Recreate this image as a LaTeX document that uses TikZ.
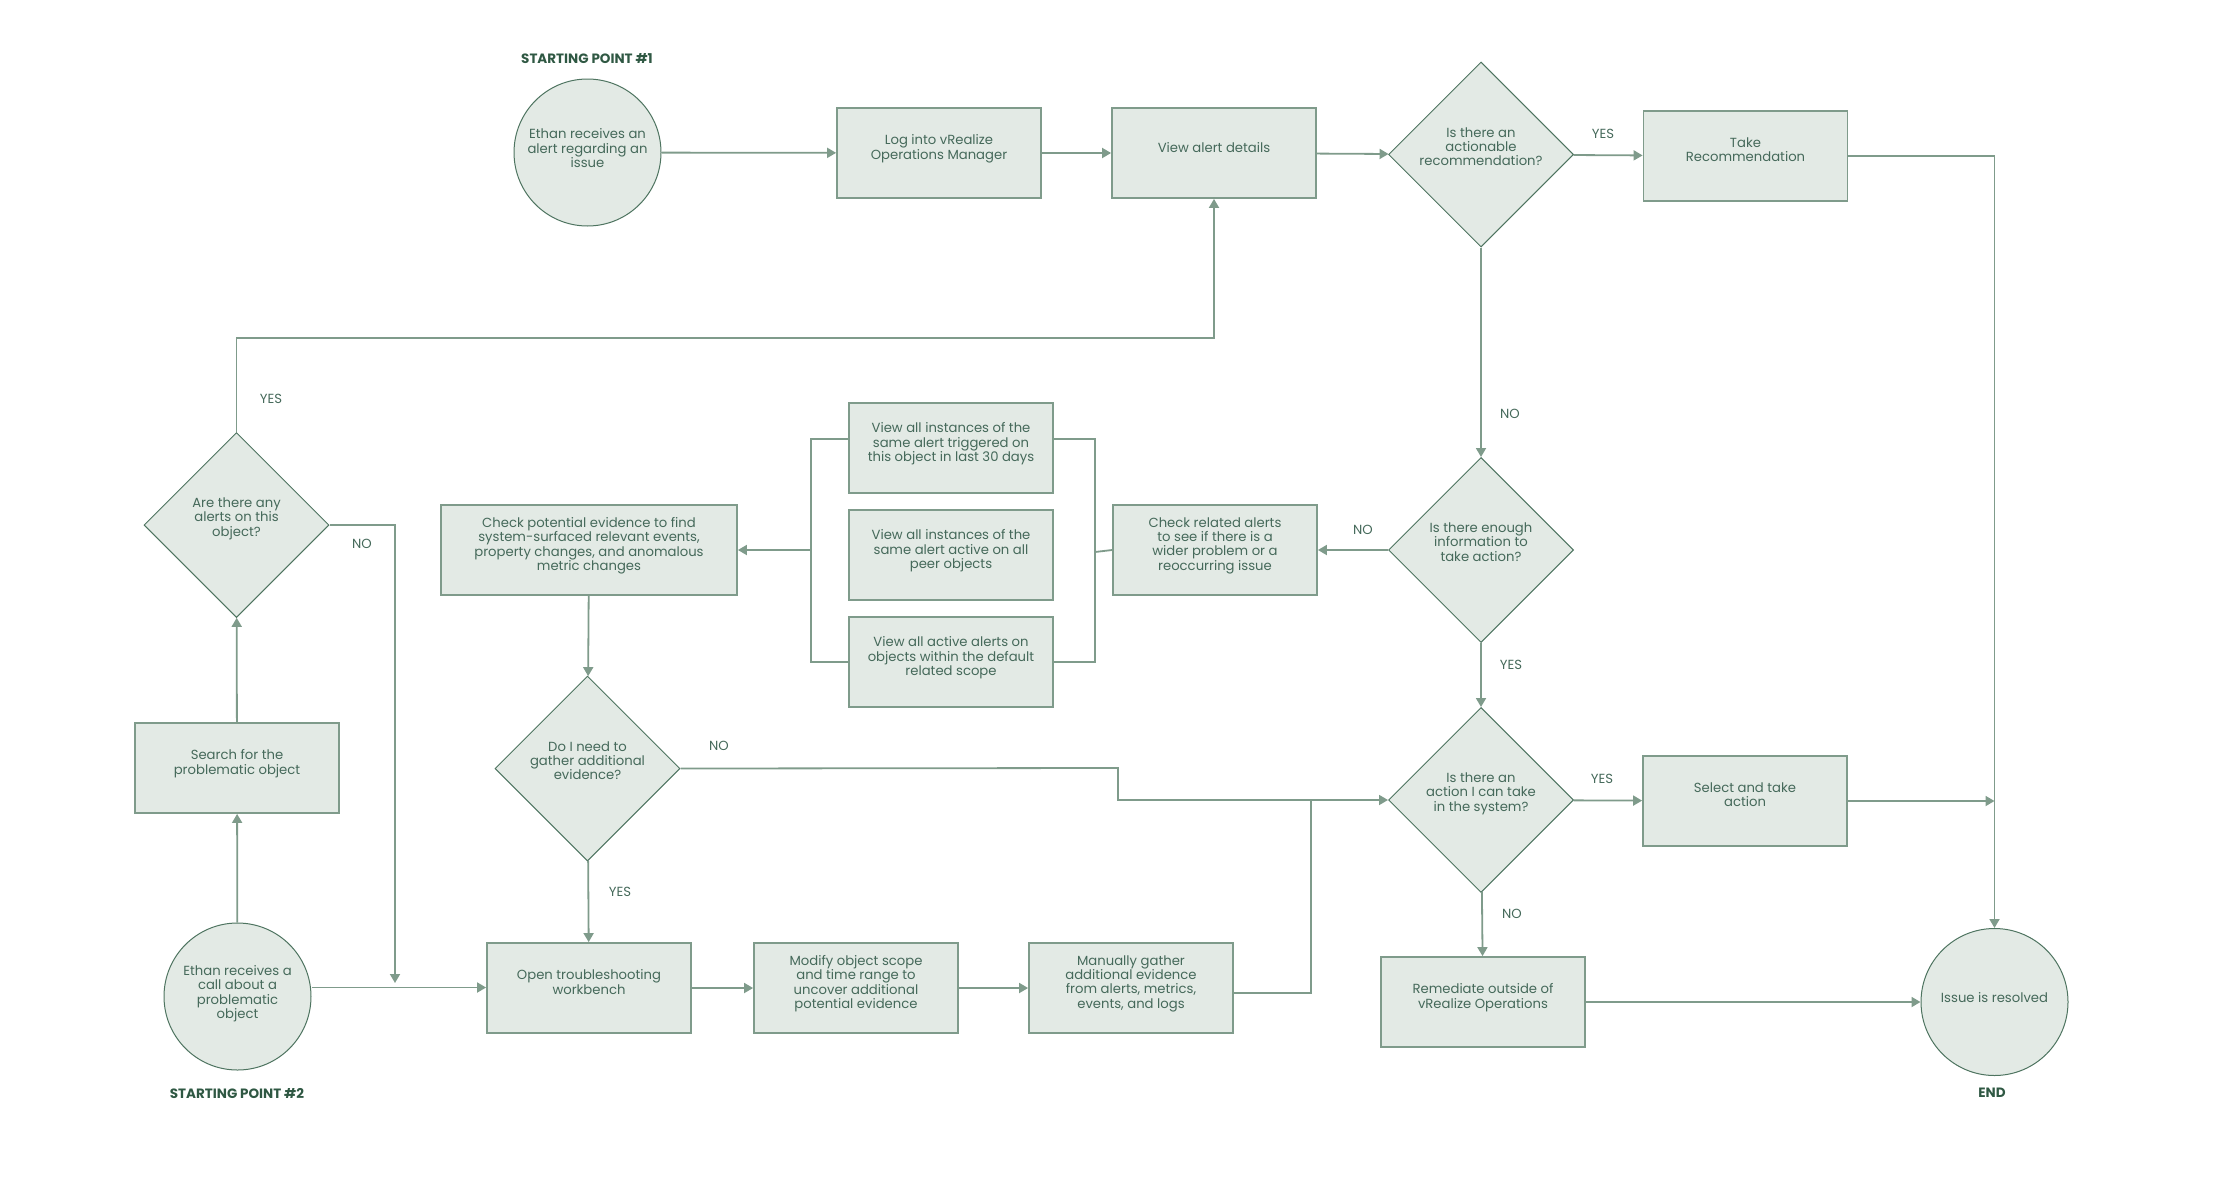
\documentclass[tikz,border=0pt]{standalone}
\usepackage{fontspec}
\setmainfont{Poppins}
\usetikzlibrary{shapes.geometric,arrows.meta}
\definecolor{fillc}{HTML}{E3EAE5}
\definecolor{boxc}{HTML}{7F9B8B}
\definecolor{edgec}{HTML}{4E7460}
\definecolor{linec}{HTML}{7F9B8B}
\definecolor{textc}{HTML}{45695A}
\definecolor{headc}{HTML}{2F5843}
\begin{document}
\begin{tikzpicture}[x=1pt,y=-1pt,
  every node/.style={font=\fontsize{13.2}{14.2}\selectfont, text=textc, align=center},
  procbox/.style={rectangle, draw=boxc, line width=1.8pt, fill=fillc, minimum width=204pt, minimum height=90pt, inner sep=2pt, text depth=12pt},
  decision/.style={diamond, aspect=1, draw=edgec, line width=1pt, fill=fillc, minimum width=185pt, minimum height=185pt, inner sep=0pt, text depth=16pt},
  terminal/.style={circle, draw=edgec, line width=1pt, fill=fillc, minimum size=147pt, inner sep=0pt, text depth=9pt},
  conn/.style={draw=linec, line width=1.8pt},
  arr/.style={conn, -{Triangle[length=9pt,width=10pt]}},
  lbl/.style={font=\fontsize{13.2}{14}\selectfont, text=textc},
  head/.style={font=\fontsize{13.5}{14}\selectfont\bfseries, text=headc}
]
\useasboundingbox (0,0) rectangle (2219,1197);

% nodes
\node[terminal] (c1) at (587.5,152.5) {Ethan receives an\\alert regarding an\\issue};
\node[head] (sp1) at (587,59) {STARTING POINT \#1};
\node[procbox] (log) at (939,153) {Log into vRealize\\Operations Manager};
\node[procbox] (view) at (1214,153) {View alert details};
\node[decision] (d1) at (1481,154.5) {Is there an\\actionable\\recommendation?};
\node[procbox] (take) at (1745.5,156) {Take\\Recommendation};

\node[decision] (d2) at (236.5,525) {Are there any\\alerts on this\\object?};
\node[procbox] (search) at (237,768) {Search for the\\problematic object};
\node[terminal] (c2) at (237.5,996.5) {Ethan receives a\\call about a\\problematic\\object};
\node[head] (sp2) at (237,1093) {STARTING POINT \#2};

\node[procbox, minimum width=296pt] (checkpot) at (589,550) {Check potential evidence to find\\system-surfaced relevant events,\\property changes, and anomalous\\metric changes};
\node[procbox] (view1) at (951,448) {View all instances of the\\same alert triggered on\\this object in last 30 days};
\node[procbox] (view2) at (951,555) {View all instances of the\\same alert active on all\\peer objects};
\node[procbox] (view3) at (951,662) {View all active alerts on\\objects within the default\\related scope};
\node[procbox] (checkrel) at (1215,550) {Check related alerts\\to see if there is a\\wider problem or a\\reoccurring issue};
\node[decision] (d3) at (1481,550) {Is there enough\\information to\\take action?};

\node[decision] (d4) at (587.5,768.5) {Do I need to\\gather additional\\evidence?};
\node[decision] (d5) at (1481,800) {Is there an\\action I can take\\in the system?};
\node[procbox] (select) at (1745,801) {Select and take\\action};

\node[procbox] (open) at (589,988) {Open troubleshooting\\workbench};
\node[procbox] (modify) at (856,988) {Modify object scope\\and time range to\\uncover additional\\potential evidence};
\node[procbox] (manual) at (1131,988) {Manually gather\\additional evidence\\from alerts, metrics,\\events, and logs};
\node[procbox] (remed) at (1483,1002) {Remediate outside of\\vRealize Operations};
\node[terminal] (issue) at (1994.5,1002) {Issue is resolved};
\node[head] (endl) at (1992,1093) {END};

% helper coordinates
\coordinate (tp) at (1214,338);
\coordinate (nd) at (395,983);
\coordinate (lb) at (811,550);
\coordinate (rb) at (1095,552);
\coordinate (nk) at (1118,768);
\coordinate (jn) at (1311,800);

% connectors
\draw[arr] (c1) -- (log);
\draw[arr] (log) -- (view);
\draw[arr] (view) -- (d1);
\draw[arr] (d1) -- (take);
\draw[arr] (take.east) -| (issue.north);
\draw[arr] (d1) -- (d3);
\draw[arr] (d3) -- (checkrel);
\draw[conn] (checkrel.west) -- (rb);
\draw[conn] ([yshift=9pt]view1.east) -| (rb) |- (view3.east);
\draw[conn] ([yshift=9pt]view1.west) -| (lb) |- (view3.west);
\draw[arr] (lb) -- (checkpot.east);
\draw[arr] (checkpot) -- (d4);
\draw[arr] (d4.east) -- (nk) |- (d5.west);
\draw[conn] ([yshift=-5pt]manual.east) -| (jn);
\draw[arr] (d4) -- (open);
\draw[arr] (d3) -- (d5);
\draw[arr] (d5) -- (select);
\draw[arr] (select.east) -- (select.east -| issue.north);
\draw[arr] (d5) -- (remed);
\draw[arr] (remed) -- (issue);
\draw[arr] (open) -- (modify);
\draw[arr] (modify) -- (manual);
\draw[arr] ([yshift=9pt]c2.east) -- ([yshift=9pt]c2.east -| open.west);
\draw[arr] (d2.east) -| (nd);
\draw[arr] (c2) -- (search);
\draw[arr] (search) -- (d2);
\draw[arr] (d2.north) |- (tp) -- (view.south);

% labels
\node[lbl] at (1603,134) {YES};
\node[lbl] at (1510,414) {NO};
\node[lbl] at (1363,530) {NO};
\node[lbl] at (1511,665) {YES};
\node[lbl] at (271,399) {YES};
\node[lbl] at (362,544) {NO};
\node[lbl] at (719,746) {NO};
\node[lbl] at (620,892) {YES};
\node[lbl] at (1602,779) {YES};
\node[lbl] at (1512,914) {NO};
\end{tikzpicture}
\end{document}
